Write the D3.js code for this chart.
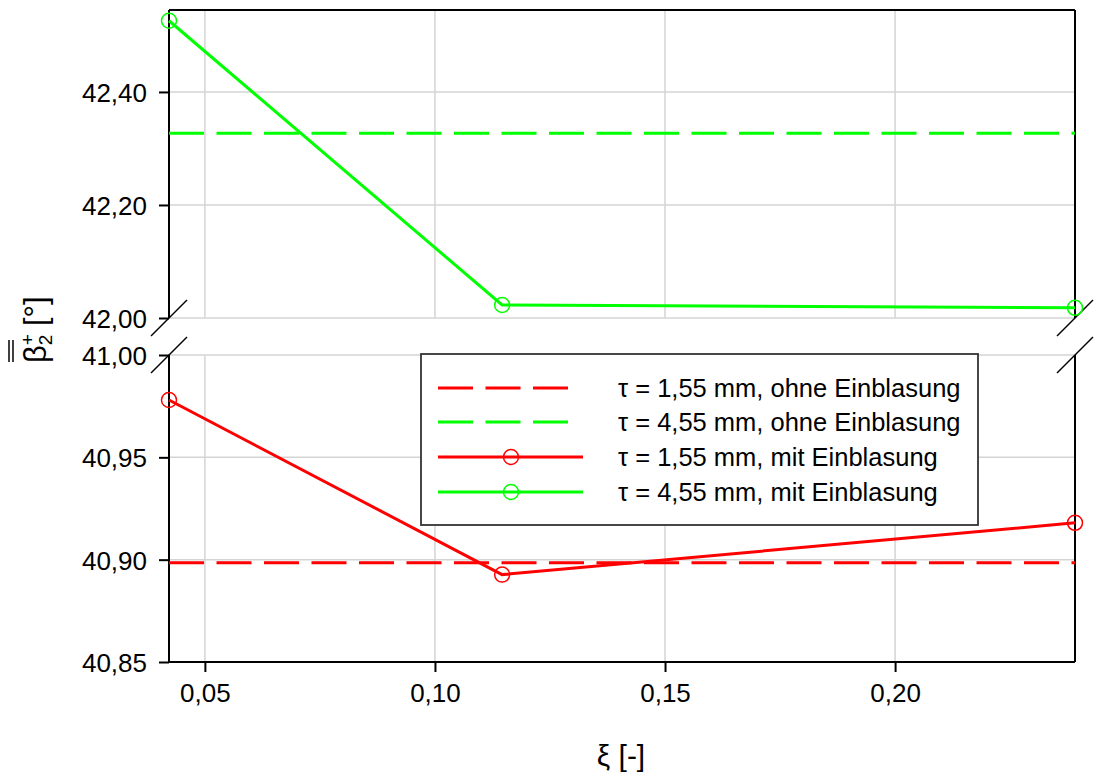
<!DOCTYPE html>
<html>
<head>
<meta charset="utf-8">
<script src="https://cdn.jsdelivr.net/npm/d3@7"></script>
<style>
  body { margin: 0; background: #fff; }
  svg { display: block; font-family: Arial, "Liberation Sans", sans-serif; }
</style>
</head>
<body>
<svg id="chart" width="1097" height="776"></svg>
<script>
// ---- data ----
const xi = [0.0422, 0.1146, 0.2391];
const redMit = [40.978, 40.8927, 40.918];
const greenMit = [42.526, 42.023, 42.018];
const redOhne = [40.8985, 40.8985, 40.8985];
const greenOhne = [42.327, 42.327, 42.327];
const xTicks = [0.05, 0.10, 0.15, 0.20];
const yTicksTop = [42.00, 42.20, 42.40];
const yTicksBot = [40.85, 40.90, 40.95, 41.00];
const legendLabels = [
  "τ = 1,55 mm, ohne Einblasung",
  "τ = 4,55 mm, ohne Einblasung",
  "τ = 1,55 mm, mit Einblasung",
  "τ = 4,55 mm, mit Einblasung"
];

const RED = "#ff0000", GREEN = "#00ff00", GRID = "#d4d4d4";
const DASH = "35,12.5";
const FS = 26, LFS = 25.5;
const svg = d3.select("#chart");
const L = 169, R = 1075, T = 10, B1 = 318, T2 = 355, B = 662;

const fmt = d => d3.format(".2f")(d).replace(".", ",");

const x = d3.scaleLinear().domain([0.0422, 0.2391]).range([L, R]);
const yTop = d3.scaleLinear().domain([42.0, 42.545]).range([B1, T]);
const yBot = d3.scaleLinear().domain([40.85, 41.00]).range([B, T2]);

// grid
const grid = svg.append("g").attr("stroke", GRID).attr("stroke-width", 1.5);
xTicks.forEach(t => {
  grid.append("line").attr("x1", x(t)).attr("x2", x(t)).attr("y1", T).attr("y2", B1);
  grid.append("line").attr("x1", x(t)).attr("x2", x(t)).attr("y1", T2).attr("y2", B);
});
yTicksTop.forEach(t => grid.append("line").attr("x1", L).attr("x2", R).attr("y1", yTop(t)).attr("y2", yTop(t)));
yTicksBot.forEach(t => grid.append("line").attr("x1", L).attr("x2", R).attr("y1", yBot(t)).attr("y2", yBot(t)));

// axes
const axisStyle = g => {
  g.selectAll("path.domain").remove();
  g.selectAll(".tick line").attr("stroke", "#000").attr("stroke-width", 2);
  g.selectAll(".tick text").attr("font-size", FS).attr("fill", "#000").attr("font-family", "Arial, 'Liberation Sans', sans-serif");
};
svg.append("g").attr("transform", `translate(${L},0)`)
  .call(d3.axisLeft(yTop).tickValues(yTicksTop).tickFormat(fmt).tickSize(10).tickPadding(12))
  .call(axisStyle).selectAll(".tick text").attr("dy", "0.36em");
svg.append("g").attr("transform", `translate(${L},0)`)
  .call(d3.axisLeft(yBot).tickValues(yTicksBot).tickFormat(fmt).tickSize(10).tickPadding(12))
  .call(axisStyle).selectAll(".tick text").attr("dy", "0.36em");
svg.append("g").attr("transform", `translate(0,${B})`)
  .call(d3.axisBottom(x).tickValues(xTicks).tickFormat(fmt).tickSize(10).tickPadding(12))
  .call(axisStyle);

// frame
const frame = svg.append("g").attr("stroke", "#000").attr("stroke-width", 2).attr("fill", "none");
frame.append("line").attr("x1", L).attr("x2", R).attr("y1", T).attr("y2", T);
frame.append("line").attr("x1", L).attr("x2", R).attr("y1", B).attr("y2", B);
[L, R].forEach(xx => {
  frame.append("line").attr("x1", xx).attr("x2", xx).attr("y1", T).attr("y2", B1);
  frame.append("line").attr("x1", xx).attr("x2", xx).attr("y1", T2).attr("y2", B);
  [B1, T2].forEach(yy => {
    frame.append("line").attr("x1", xx - 18).attr("x2", xx + 18).attr("y1", yy + 18).attr("y2", yy - 18).attr("stroke-width", 1.5);
  });
});

// lines
const lineTop = d3.line().x((d, i) => x(xi[i])).y(d => yTop(d));
const lineBot = d3.line().x((d, i) => x(xi[i])).y(d => yBot(d));

svg.append("path").datum(redOhne).attr("d", lineBot).attr("fill", "none")
  .attr("stroke", RED).attr("stroke-width", 3).attr("stroke-dasharray", DASH);
svg.append("path").datum(greenOhne).attr("d", lineTop).attr("fill", "none")
  .attr("stroke", GREEN).attr("stroke-width", 3).attr("stroke-dasharray", DASH);
svg.append("path").datum(redMit).attr("d", lineBot).attr("fill", "none")
  .attr("stroke", RED).attr("stroke-width", 3);
svg.append("path").datum(greenMit).attr("d", lineTop).attr("fill", "none")
  .attr("stroke", GREEN).attr("stroke-width", 3);
svg.append("g").selectAll("circle").data(redMit).join("circle")
  .attr("cx", (d, i) => x(xi[i])).attr("cy", d => yBot(d)).attr("r", 7.5)
  .attr("fill", "none").attr("stroke", RED).attr("stroke-width", 1.5);
svg.append("g").selectAll("circle").data(greenMit).join("circle")
  .attr("cx", (d, i) => x(xi[i])).attr("cy", d => yTop(d)).attr("r", 7.5)
  .attr("fill", "none").attr("stroke", GREEN).attr("stroke-width", 1.5);

// legend
const lg = svg.append("g");
lg.append("rect").attr("x", 421).attr("y", 354).attr("width", 557).attr("height", 171)
  .attr("fill", "#fff").attr("stroke", "#333").attr("stroke-width", 1.8);
const rowsY = [388, 422, 457, 492];
const lstyle = [
  {c: RED, dash: true}, {c: GREEN, dash: true}, {c: RED, dash: false}, {c: GREEN, dash: false}
];
legendLabels.forEach((lab, i) => {
  const st = lstyle[i], yy = rowsY[i];
  const ln = lg.append("line").attr("x1", 438).attr("x2", st.dash ? 569 : 583)
    .attr("y1", yy).attr("y2", yy).attr("stroke", st.c).attr("stroke-width", 3);
  if (st.dash) ln.attr("stroke-dasharray", DASH);
  else lg.append("circle").attr("cx", 511).attr("cy", yy).attr("r", 7.5)
    .attr("fill", "none").attr("stroke", st.c).attr("stroke-width", 1.5);
  lg.append("text").attr("x", 618).attr("y", yy + 9).attr("font-size", LFS).attr("fill", "#000").text(lab);
});

// x title
svg.append("text").attr("x", 621).attr("y", 766).attr("text-anchor", "middle")
  .attr("font-size", 30).text("ξ [-]");

// y title (rotated)
const yt = svg.append("g").attr("transform", "translate(46,330) rotate(-90)");
const beta = yt.append("text").attr("x", -33).attr("y", 0).attr("font-size", 31).text("β");
const bw = beta.node().getComputedTextLength();
yt.append("text").attr("x", -33 + bw).attr("y", -12).attr("font-size", 19).text("+");
yt.append("text").attr("x", -33 + bw).attr("y", 6).attr("font-size", 19).text("2");
yt.append("text").attr("x", 4).attr("y", 0).attr("font-size", 31).text("[°]");
[-37, -33].forEach(v => yt.append("line").attr("x1", -32).attr("x2", -10)
  .attr("y1", v).attr("y2", v).attr("stroke", "#000").attr("stroke-width", 1.5));
</script>
</body>
</html>
